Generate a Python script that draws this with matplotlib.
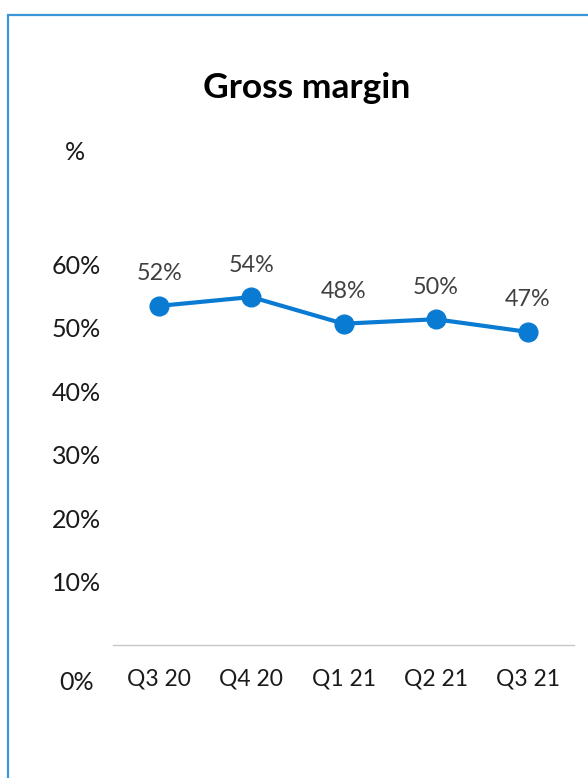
import matplotlib
matplotlib.use("Agg")
import matplotlib.pyplot as plt
from matplotlib.patches import Rectangle
from matplotlib.transforms import ScaledTranslation

# ---- data ----
quarters = ["Q3 20", "Q4 20", "Q1 21", "Q2 21", "Q3 21"]
margin_plotted = [53.4, 54.8, 50.6, 51.3, 49.3]
margin_labels = ["52%", "54%", "48%", "50%", "47%"]
ytick_values = [0, 10, 20, 30, 40, 50, 60]
ytick_labels = ["0%", "10%", "20%", "30%", "40%", "50%", "60%"]
title = "Gross margin"
unit_label = "%"

W, H = 588, 778
DPI = 100
plt.rcParams["font.family"] = ["Lato", "DejaVu Sans"]

fig = plt.figure(figsize=(W / DPI, H / DPI), dpi=DPI)
fig.patch.set_facecolor("white")

# outer blue frame (runs off the right/bottom of the image)
fig.patches.append(Rectangle((8 / W, -0.1), 1.2, 1 - 15 / H + 0.1,
                             transform=fig.transFigure, fill=False,
                             edgecolor="#3B96DA", linewidth=1.6))

ax_left, ax_right = 113 / W, 574 / W
y0_px = 645
px_per_unit = 6.35
ymax = 70
ax_bottom = 1 - y0_px / H
ax_height = ymax * px_per_unit / H
ax = fig.add_axes([ax_left, ax_bottom, ax_right - ax_left, ax_height])

x = list(range(len(quarters)))
blue = "#0A7BD2"
ax.plot(x, margin_plotted, color=blue, linewidth=3.0, marker="o",
        markersize=13.5, markerfacecolor=blue, markeredgecolor=blue,
        solid_capstyle="round", zorder=3)

for xi, v, lab in zip(x, margin_plotted, margin_labels):
    ax.annotate(lab, (xi, v), xytext=(0, 32), textcoords="offset pixels",
                ha="center", va="center", fontsize=16.8, color="#404040")

ax.set_xlim(-0.5, len(quarters) - 0.5)
ax.set_ylim(0, ymax)
ax.set_xticks(x)
ax.set_xticklabels(quarters, fontsize=16.5, color="#1a1a1a")
ax.set_yticks(ytick_values)
ax.set_yticklabels(ytick_labels, fontsize=18, color="#1a1a1a", ha="center")
ax.tick_params(axis="both", length=0)
ax.tick_params(axis="x", pad=17)
ax.tick_params(axis="y", pad=26.5)

# the 0% label sits on the category row in the reference
for lbl in ax.get_yticklabels():
    if lbl.get_text() == "0%":
        lbl.set_transform(lbl.get_transform() +
                          ScaledTranslation(0, -35 / DPI, fig.dpi_scale_trans))

for s in ["top", "right", "left"]:
    ax.spines[s].set_visible(False)
ax.spines["bottom"].set_color("#c8c8c8")
ax.spines["bottom"].set_linewidth(1.0)
ax.set_facecolor("none")

fig.text(307 / W, 1 - 88 / H, title, ha="center", va="center",
         fontsize=25.5, fontweight="bold", color="#000000")
fig.text(75 / W, 1 - 153 / H, unit_label, ha="center", va="center",
         fontsize=18, color="#1a1a1a")

fig.savefig("out.png", dpi=DPI)
